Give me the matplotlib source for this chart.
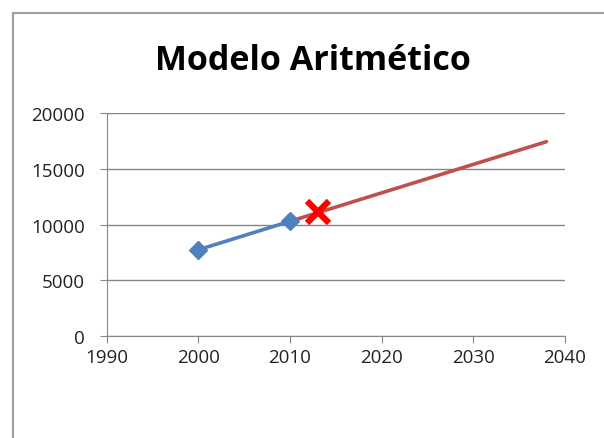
import matplotlib.pyplot as plt
from matplotlib.lines import Line2D

anos_censo = [2000, 2010]
pop_censo = [7750, 10300]

anos_proj = [2010, 2038]
pop_proj = [10300, 17440]

ano_est = [2013]
pop_est = [11150]

xticks = [1990, 2000, 2010, 2020, 2030, 2040]
yticks = [0, 5000, 10000, 15000, 20000]

plt.rcParams['font.family'] = ['Open Sans', 'DejaVu Sans']

fig = plt.figure(figsize=(6.04, 4.39), dpi=100)
ax = fig.add_axes([0.177, 0.232, 0.758, 0.508])

cinza = '#868686'
ax.grid(axis='y', color=cinza, linewidth=1)
ax.set_axisbelow(True)

ax.plot(anos_proj, pop_proj, color='#C0504D', linewidth=2.6, solid_capstyle='round')
ax.plot(anos_censo, pop_censo, color='#4F81BD', linewidth=2.6,
        marker='D', markersize=9)
ax.plot(ano_est, pop_est, linestyle='none', marker='x', color='#FF0000',
        markersize=16, markeredgewidth=4.5)

ax.set_xlim(1990, 2040)
ax.set_ylim(0, 20000)
ax.set_xticks(xticks)
ax.set_yticks(yticks)
ax.tick_params(axis='both', direction='out', length=5, color=cinza,
               labelsize=13.5, labelcolor='#222222')
ax.tick_params(axis='y', pad=11)
ax.tick_params(axis='x', pad=3.5)

for lado in ['top', 'right']:
    ax.spines[lado].set_visible(False)
for lado in ['left', 'bottom']:
    ax.spines[lado].set_color(cinza)

fig.text(0.518, 0.862, 'Modelo Aritmético', ha='center', va='center',
         fontsize=24.5, fontweight='bold', color='black')

# borda do gráfico (só esquerda e topo aparecem)
fig.add_artist(Line2D([0.021, 0.021], [0, 0.968], color='#A0A0A0', linewidth=1.5,
                      transform=fig.transFigure))
fig.add_artist(Line2D([0.021, 1], [0.968, 0.968], color='#A0A0A0', linewidth=1.5,
                      transform=fig.transFigure))

fig.savefig('out.png', dpi=100)
